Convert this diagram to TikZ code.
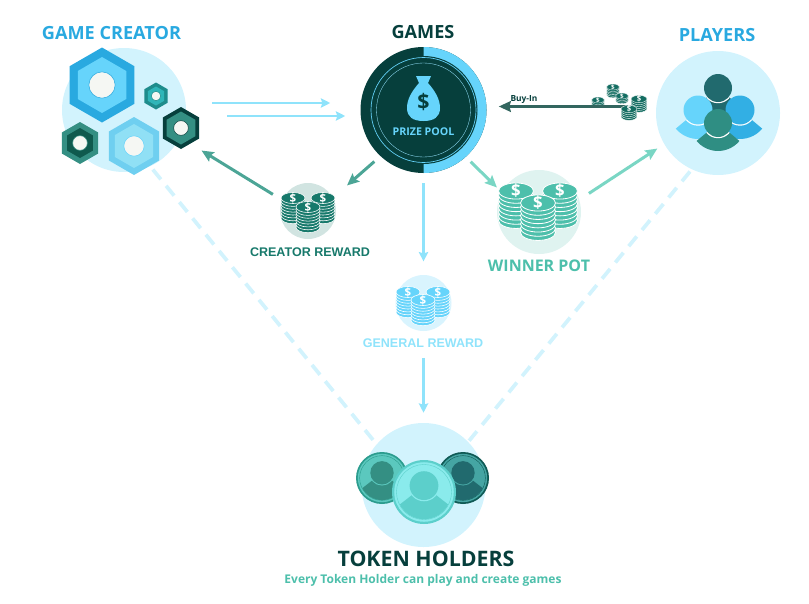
\documentclass[tikz,border=0pt]{standalone}
\usepackage{fontspec}
\usepackage{xcolor}
\usetikzlibrary{arrows.meta}
\setmainfont{Open Sans}
\newfontfamily\rewardfont{Liberation Sans}
\definecolor{skyblue}{HTML}{29A9E0}
\definecolor{poolblue}{HTML}{66D4FB}
\definecolor{paleblue}{HTML}{D2F3FD}
\definecolor{arrowblue}{HTML}{8FE3FB}
\definecolor{darkteal}{HTML}{063F3C}
\definecolor{midteal}{HTML}{348F83}
\definecolor{deepteal}{HTML}{216A6E}
\definecolor{rewardteal}{HTML}{17796B}
\definecolor{arrowteal}{HTML}{4CA596}
\definecolor{buyteal}{HTML}{33665F}
\definecolor{mint}{HTML}{4DBFAB}
\definecolor{arrowmint}{HTML}{7AD6C4}
\definecolor{holewhite}{HTML}{F5F7F3}
\definecolor{hexsmall}{HTML}{1E8C8C}
\definecolor{hexsmallin}{HTML}{2FB5B8}
\definecolor{hexlight}{HTML}{6FCFF0}
\definecolor{hexlightin}{HTML}{90E0F5}
\definecolor{hexdarkin}{HTML}{0F5A4E}
\definecolor{coinleft}{HTML}{5BC8BE}
\definecolor{coinleftedge}{HTML}{2B9C8E}
\definecolor{coinright}{HTML}{45A5A3}
\definecolor{coinrightedge}{HTML}{0F5A55}
\definecolor{coinfront}{HTML}{8AEBEC}
\definecolor{coinfrontedge}{HTML}{5CCFCB}
\tikzset{
  disc/.style={circle, inner sep=0pt, minimum size=#1},
  flow/.style={line width=2.25pt, -{Stealth[length=9pt,width=8pt,inset=1.5pt]}},
  flowthin/.style={line width=1.9pt, -{Stealth[length=7pt,width=7pt,inset=1pt]}},
  link/.style={paleblue, line width=2.8pt, dash pattern=on 9.5pt off 6.25pt},
  title/.style={font=\fontsize{13.6}{15}\selectfont\bfseries, inner sep=0pt},
  reward/.style={font=\rewardfont\fontsize{9.4}{11}\selectfont\bfseries, inner sep=0pt}
}
\newcommand{\hexnut}[7]{
  \begin{scope}[shift={(#1,#2)}]
    \fill[#5] (90:#3) -- (150:#3) -- (210:#3) -- (270:#3) -- (330:#3) -- (30:#3) -- cycle;
    \fill[#6] (90:#4) -- (150:#4) -- (210:#4) -- (270:#4) -- (330:#4) -- (30:#4) -- cycle;
    \fill[holewhite, draw=#7, line width=.4pt] (0,0) circle ({0.35*#3});
  \end{scope}
}
\newcommand{\coinstack}[5]{
  \foreach \lev in {#4,...,0} {
    \fill[#5, draw=white, line width={0.035*#3*1pt}] (#1,{#2+\lev*0.24*#3}) ellipse ({#3} and {0.46*#3});
  }
  \pgfmathsetmacro{\dsize}{0.72*#3}
  \node[text=white, inner sep=0pt, font=\fontsize{\dsize}{\dsize}\selectfont\bfseries] (dollar#1x#2) at (#1,#2) {\$};
}
\newcommand{\person}[4]{
  \begin{scope}[shift={(#1,#2)}]
    \fill[#4] (0,0) -- (40:#3*2) arc[start angle=40, end angle=140, radius=#3*2] -- cycle;
    \begin{scope}
      \clip (0,0) -- (40:#3*2) arc[start angle=40, end angle=140, radius=#3*2] -- cycle;
      \fill[white] (0,0) circle ({#3+1.2});
    \end{scope}
    \fill[#4] (0,0) circle (#3);
  \end{scope}
}
\newcommand{\tokencoin}[6]{
  \begin{scope}[shift={(#1,#2)}]
    \fill[#3] (0,0) circle (#4);
    \fill[#5] (0,0) circle ({0.93*#4});
    \draw[#3, line width=.3pt] (0,0) circle ({0.86*#4});
    \begin{scope}
      \clip (0,0) circle ({0.85*#4});
      \fill[#6] (0,{-0.2*#4}) -- +(38:2*#4) -- +(142:2*#4) -- cycle;
      \fill[#5] (0,{-0.2*#4}) circle ({0.49*#4});
      \fill[#6] (0,{-0.2*#4}) circle ({0.45*#4});
    \end{scope}
  \end{scope}
}

\begin{document}
\begin{tikzpicture}[x=0.75pt, y=-0.75pt]
  \useasboundingbox (0,0) rectangle (809,603);

  \node[disc=93pt, fill=paleblue] (creator) at (124,110) {};
  \node[disc=93pt, fill=paleblue] (players) at (718,113) {};
  \node[disc=93pt, fill=paleblue] (holders) at (423.5,485) {};
  \node[disc=94.5pt, fill=darkteal] (games) at (423.5,110) {};
  \node[disc=63pt, fill=mint!18] (winner) at (539,212) {};
  \node[disc=42pt, fill=rewardteal!20] (creatorcoins) at (308,211) {};
  \node[disc=42pt, fill=poolblue!25] (generalcoins) at (423.5,303) {};

  \node[title, text=skyblue] (creatorlabel) at (111.5,33) {GAME CREATOR};
  \node[title, text=darkteal] (gameslabel) at (423,32) {GAMES};
  \node[title, text=skyblue] (playerslabel) at (717,35) {PLAYERS};
  \node[title, text=darkteal, font=\fontsize{16}{18}\selectfont\bfseries] (holderslabel) at (426,559) {TOKEN HOLDERS};
  \node[text=mint, inner sep=0pt, font=\fontsize{9}{11}\selectfont\bfseries] (holdersnote) at (423,580) {Every Token Holder can play and create games};
  \node[title, text=mint, font=\fontsize{12}{14}\selectfont\bfseries] (winnerlabel) at (539,266) {WINNER POT};
  \node[reward, text=rewardteal] (creatorreward) at (310,252) {CREATOR REWARD};
  \node[reward, text=arrowblue] (generalreward) at (423,343) {GENERAL REWARD};

  \draw[link, shorten <=3pt, shorten >=2pt] (creator.-65) -- (holders.139);
  \draw[link, shorten <=2pt, shorten >=1pt] (players.-115) -- (holders.44);

  \hexnut{102}{85}{37.5}{28}{skyblue}{poolblue}{skyblue}
  \hexnut{156}{96}{13.5}{9.5}{hexsmall}{hexsmallin}{hexsmall}
  \hexnut{181}{128}{21}{16.5}{darkteal}{midteal}{darkteal}
  \hexnut{80}{143}{21}{15}{midteal}{hexdarkin}{midteal}
  \hexnut{134}{146}{29}{22}{hexlight}{hexlightin}{poolblue}

  \fill[poolblue] (423.5,47) arc[start angle=-90, end angle=90, radius=63] -- cycle;
  \fill[darkteal] (423.5,110) circle (54);
  \draw[poolblue, line width=.5pt] (423.5,110) circle (52.5);
  \draw[poolblue!70!white, line width=.25pt] (423.5,110) circle (47);
  \fill[poolblue] (416,76) -- (431,76) -- (428,83) .. controls (436,92) and (440,100) .. (440,108)
    .. controls (440,117) and (434,121) .. (423.5,121) .. controls (413,121) and (407,117) .. (407,108)
    .. controls (407,100) and (411,92) .. (419,83) -- cycle;
  \node[text=darkteal, inner sep=0pt, font=\fontsize{16}{18}\selectfont\bfseries] (bagdollar) at (423.5,102) {\$};
  \node[text=poolblue, inner sep=0pt, font=\fontsize{8}{10}\selectfont\bfseries] (poollabel) at (423.5,132) {PRIZE POOL};

  \person{718}{88}{14}{deepteal}
  \person{698}{110}{14.5}{poolblue}
  \person{740}{110}{14.5}{skyblue!85!poolblue}
  \person{718}{123}{14}{midteal!90!teal}

  \tokencoin{382}{478}{coinleftedge}{26}{coinleft}{midteal}
  \tokencoin{463}{478}{coinrightedge}{26}{coinright}{deepteal}
  \tokencoin{424}{492}{coinfrontedge}{32}{coinfront}{coinfrontedge}

  \coinstack{293}{198}{12}{7}{rewardteal}
  \coinstack{323}{198}{12}{7}{rewardteal}
  \coinstack{308}{207}{12}{7}{rewardteal}

  \coinstack{408}{292}{12}{7}{poolblue}
  \coinstack{438}{292}{12}{7}{poolblue}
  \coinstack{423}{300}{12}{7}{poolblue}

  \coinstack{516}{191}{17.5}{7}{mint}
  \coinstack{560}{191}{17.5}{7}{mint}
  \coinstack{538}{203}{17.5}{7}{mint}

  \coinstack{613}{87}{6.5}{5}{rewardteal!80!darkteal}
  \coinstack{622}{96}{6.5}{3}{rewardteal!80!darkteal}
  \coinstack{598}{100}{6.5}{3}{rewardteal!80!darkteal}
  \coinstack{639}{99}{8}{5}{rewardteal!80!darkteal}

  \coordinate (buystack) at (628,106.5);
  \draw[buyteal, line width=2.1pt, -{Stealth[length=9pt,width=8pt,inset=1pt]}, shorten >=9pt] (buystack) -- (games.east |- buystack);
  \node[text=darkteal, inner sep=0pt, font=\fontsize{6.3}{7}\selectfont\bfseries] (buyin) at (524,100) {Buy-In};
  \coinstack{629}{109}{8}{4}{rewardteal!80!darkteal}

  \draw[flowthin, arrowblue, shorten <=19.5pt, shorten >=22.5pt] ([yshift=5.25pt]creator.east) -- ([yshift=5.25pt]games.west);
  \draw[flowthin, arrowblue, shorten <=30.75pt, shorten >=11.25pt] ([yshift=-4.5pt]creator.east) -- ([yshift=-4.5pt]games.west);
  \draw[flow, arrowteal, shorten <=8pt, shorten >=19pt] (creatorcoins.157) -- (creator.-26);
  \draw[flow, arrowteal, shorten <=6pt, shorten >=14pt] (games.-133) -- (creatorcoins.28);
  \draw[flow, arrowmint, shorten <=5pt, shorten >=5pt] (games.-48) -- (winner.152);
  \draw[flow, arrowmint, shorten <=8.5pt, shorten >=6pt] (winner.17) -- (players.-150);
  \draw[flowthin, arrowblue, shorten <=7.5pt, shorten >=10pt] (games.south) -- (generalcoins.north);
  \draw[flowthin, arrowblue, shorten <=20pt, shorten >=7.5pt] (generalcoins.south) -- (holders.north);
\end{tikzpicture}
\end{document}
